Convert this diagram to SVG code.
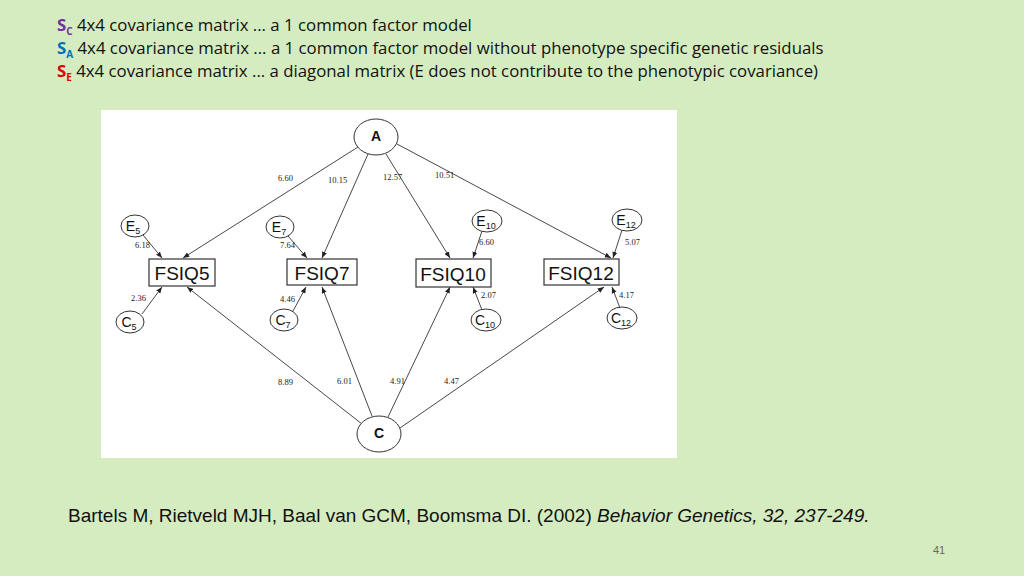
<svg xmlns="http://www.w3.org/2000/svg" width="1024" height="576" viewBox="0 0 1024 576">
<defs>
<marker id="ah" viewBox="0 0 10 10" refX="10" refY="5" markerWidth="7" markerHeight="7" orient="auto"><path d="M0,1 L10,5 L0,9 z" fill="#222"/></marker>
<style>
.hd{font-family:"Open Sans","Noto Sans",sans-serif;font-size:16.8px;fill:#111}
.e{fill:#fff;stroke:#333;stroke-width:1}
.box{fill:#fff;stroke:#333;stroke-width:1.2}
.bt{font-family:"Liberation Sans",Arial,sans-serif;font-size:19px;fill:#111;text-anchor:middle}
.nt{font-family:"Liberation Sans",Arial,sans-serif;font-size:14px;fill:#111;text-anchor:middle}
.sub{font-size:9px}
.lb{font-family:"Liberation Serif",serif;font-size:8.5px;fill:#222}
.c line{stroke:#333;stroke-width:0.9;marker-end:url(#ah)}
</style>
</defs>
<rect width="1024" height="576" fill="#d5ecc0"/>
<text class="hd" x="57" y="31"><tspan fill="#7030a0" font-weight="bold">S</tspan><tspan fill="#7030a0" font-weight="bold" font-size="10" dy="4">C</tspan><tspan dy="-4"> 4x4 covariance matrix ... a 1 common factor model</tspan></text>
<text class="hd" x="57" y="54"><tspan fill="#0070c0" font-weight="bold">S</tspan><tspan fill="#0070c0" font-weight="bold" font-size="10" dy="4">A</tspan><tspan dy="-4"> 4x4 covariance matrix ... a 1 common factor model without phenotype specific genetic residuals</tspan></text>
<text class="hd" x="57" y="77"><tspan fill="#e00000" font-weight="bold">S</tspan><tspan fill="#e00000" font-weight="bold" font-size="10" dy="4">E</tspan><tspan dy="-4"> 4x4 covariance matrix ... a diagonal matrix (E does not contribute to the phenotypic covariance)</tspan></text>
<rect x="101" y="110" width="576" height="348" fill="#fff"/>
<g class="c">
<line x1="358" y1="147" x2="183" y2="258"/>
<line x1="368" y1="154" x2="322" y2="258"/>
<line x1="386" y1="154" x2="450" y2="258"/>
<line x1="397" y1="144" x2="611" y2="258"/>
<line x1="362" y1="424" x2="187" y2="287"/>
<line x1="372" y1="416" x2="322" y2="287"/>
<line x1="388" y1="417" x2="450" y2="287"/>
<line x1="400" y1="428" x2="604" y2="287"/>
<line x1="143" y1="235" x2="162" y2="258"/>
<line x1="288" y1="236" x2="307" y2="258"/>
<line x1="482" y1="231" x2="473" y2="258"/>
<line x1="622" y1="230" x2="613" y2="258"/>
<line x1="142" y1="314" x2="162" y2="287"/>
<line x1="293" y1="311" x2="306" y2="287"/>
<line x1="482" y1="310" x2="473" y2="287"/>
<line x1="620" y1="308" x2="612" y2="287"/>
</g>
<g class="lb">
<text x="278" y="181">6.60</text><text x="328" y="183">10.15</text><text x="383" y="180">12.57</text><text x="435" y="178">10.51</text>
<text x="135" y="248">6.18</text><text x="280" y="248">7.64</text><text x="479" y="245">6.60</text><text x="625" y="245">5.07</text>
<text x="131" y="301">2.36</text><text x="280" y="302">4.46</text><text x="481" y="298">2.07</text><text x="619" y="298">4.17</text>
<text x="278" y="385">8.89</text><text x="337" y="384">6.01</text><text x="390" y="384">4.91</text><text x="444" y="384">4.47</text>
</g>
<g id="A"><ellipse class="e" cx="376" cy="137" rx="22" ry="18"/><text class="nt" x="376" y="141" font-size="10" font-weight="bold">A</text></g>
<g id="C"><ellipse class="e" cx="379" cy="434" rx="22" ry="18"/><text class="nt" x="379" y="438" font-size="10" font-weight="bold">C</text></g>
<g id="FSIQ5"><rect class="box" x="149" y="259" width="66" height="27"/><text class="bt" x="182" y="280">FSIQ5</text></g>
<g id="FSIQ7"><rect class="box" x="287" y="259" width="70" height="26"/><text class="bt" x="322" y="280">FSIQ7</text></g>
<g id="FSIQ10"><rect class="box" x="416" y="259" width="75" height="28"/><text class="bt" x="453" y="281">FSIQ10</text></g>
<g id="FSIQ12"><rect class="box" x="544" y="259" width="75" height="26"/><text class="bt" x="581" y="280">FSIQ12</text></g>
<g id="E5"><ellipse class="e" cx="135" cy="226" rx="14" ry="11"/><text class="nt" x="133" y="231">E<tspan class="sub" dy="3">5</tspan></text></g>
<g id="E7"><ellipse class="e" cx="280" cy="227" rx="14" ry="11"/><text class="nt" x="279" y="232">E<tspan class="sub" dy="3">7</tspan></text></g>
<g id="E10"><ellipse class="e" cx="487" cy="221" rx="15" ry="11"/><text class="nt" x="486" y="226">E<tspan class="sub" dy="3">10</tspan></text></g>
<g id="E12"><ellipse class="e" cx="627" cy="220" rx="15" ry="11"/><text class="nt" x="626" y="225">E<tspan class="sub" dy="3">12</tspan></text></g>
<g id="C5"><ellipse class="e" cx="130" cy="322" rx="14" ry="11"/><text class="nt" x="129" y="327">C<tspan class="sub" dy="3">5</tspan></text></g>
<g id="C7"><ellipse class="e" cx="284" cy="320" rx="14" ry="11"/><text class="nt" x="283" y="325">C<tspan class="sub" dy="3">7</tspan></text></g>
<g id="C10"><ellipse class="e" cx="486" cy="320" rx="15" ry="11"/><text class="nt" x="485" y="325">C<tspan class="sub" dy="3">10</tspan></text></g>
<g id="C12"><ellipse class="e" cx="622" cy="318" rx="15" ry="11"/><text class="nt" x="621" y="323">C<tspan class="sub" dy="3">12</tspan></text></g>
<text x="68" y="522" font-family="Liberation Sans,Arial,sans-serif" font-size="19" fill="#111">Bartels M, Rietveld MJH, Baal van GCM, Boomsma DI.  (2002) <tspan font-style="italic">Behavior Genetics, 32, 237-249.</tspan></text>
<text x="939" y="554" font-family="Liberation Sans,Arial,sans-serif" font-size="11" fill="#666" text-anchor="middle">41</text>
</svg>
